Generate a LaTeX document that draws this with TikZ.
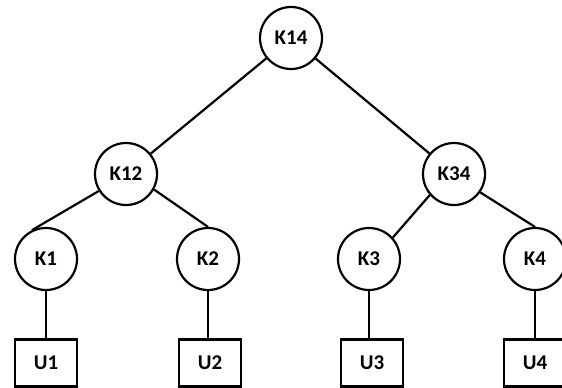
\documentclass[tikz,border=0pt]{standalone}
\usepackage{fontspec}
\setmainfont{Carlito}
\begin{document}
\begin{tikzpicture}[x=1pt,y=-1pt,
  knode/.style={circle,draw,line width=2.2pt,minimum size=62pt,inner sep=0pt,font=\fontsize{21}{21}\selectfont\bfseries},
  unode/.style={rectangle,draw,line width=2.2pt,minimum width=62pt,minimum height=47pt,inner sep=0pt,font=\fontsize{21}{21}\selectfont\bfseries},
  edge/.style={line width=2.2pt}]
\useasboundingbox (0,0) rectangle (562,388);
\clip (0,0) rectangle (562,388);
\node[knode] (K14) at (291,38) {K14};
\node[knode] (K12) at (126,174) {K12};
\node[knode] (K34) at (454,174) {K34};
\node[knode] (K1) at (46,259) {K1};
\node[knode] (K2) at (208,259) {K2};
\node[knode] (K3) at (369,259) {K3};
\node[knode] (K4) at (535,259) {K4};
\node[unode] (U1) at (46,363) {U1};
\node[unode] (U2) at (210,363) {U2};
\node[unode] (U3) at (372,363) {U3};
\node[unode] (U4) at (535,363) {U4};
\draw[edge] (K14) -- (K12);
\draw[edge] (K14) -- (K34);
\draw[edge] (K12.212) -- (K1.116);
\draw[edge] (K12.331) -- (K2.north);
\draw[edge] (K34.221) -- (K3.42);
\draw[edge] (K34.325) -- (K4.north);
\draw[edge] (K1.south) -- (U1.north -| K1.south);
\draw[edge] (K2.south) -- (U2.north -| K2.south);
\draw[edge] (K3.south) -- (U3.north -| K3.south);
\draw[edge] (K4.south) -- (U4.north -| K4.south);
\end{tikzpicture}
\end{document}
